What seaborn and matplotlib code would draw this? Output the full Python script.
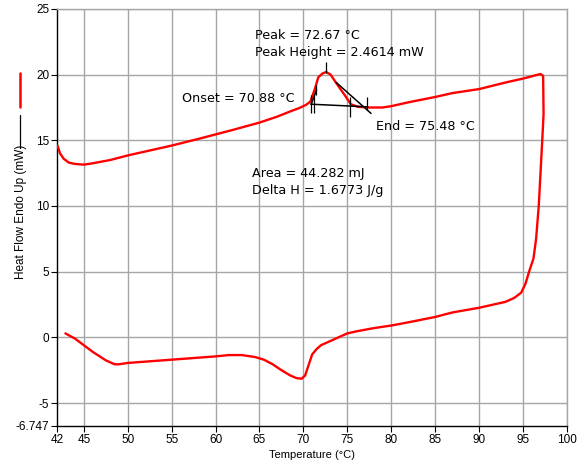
import numpy as np
import pandas as pd
import matplotlib
matplotlib.use("Agg")
import matplotlib.pyplot as plt
from matplotlib.lines import Line2D
import seaborn as sns

# --- data (heating up, then cooling back) ---
temp = [42.0, 42.3, 42.7, 43.3, 44.0, 45.0, 46.0, 48.0, 50.0, 52.0, 55.0, 58.0,
        60.0, 62.0, 65.0, 67.0, 68.5, 69.5, 70.3, 70.8, 71.3, 71.7, 72.2, 72.6,
        73.1, 73.75, 74.7, 75.4, 76.2, 77.5, 79.0, 80.0, 82.0, 85.0, 87.0, 90.0,
        93.0, 95.0, 97.0, 97.3, 97.35, 97.2, 97.0, 96.8, 96.5, 96.2, 95.7, 95.3,
        94.8, 94.0, 93.0, 90.0, 87.0, 85.0, 82.0, 80.0, 78.0, 76.0, 75.0, 74.0,
        73.0, 72.0, 71.5, 71.0, 70.5, 70.2, 69.8, 69.2, 68.5, 67.5, 66.5, 65.5,
        64.5, 63.0, 61.5, 60.0, 57.0, 55.0, 52.0, 50.0, 49.0, 48.5, 47.5, 46.0,
        45.0, 44.0, 42.9]
heat_flow = [14.6, 14.0, 13.6, 13.3, 13.2, 13.15, 13.25, 13.5, 13.85, 14.15, 14.6, 15.1,
             15.45, 15.8, 16.35, 16.8, 17.2, 17.45, 17.7, 17.95, 18.9, 19.8, 20.1, 20.2,
             20.0, 19.35, 18.45, 17.75, 17.55, 17.5, 17.5, 17.6, 17.9, 18.3, 18.6, 18.9,
             19.4, 19.7, 20.05, 19.9, 17.0, 15.0, 12.5, 10.0, 7.5, 6.0, 5.0, 4.1,
             3.4, 3.0, 2.7, 2.25, 1.9, 1.55, 1.15, 0.9, 0.7, 0.45, 0.3, 0.0,
             -0.3, -0.6, -0.9, -1.3, -2.3, -2.9, -3.15, -3.1, -2.9, -2.5, -2.05, -1.7,
             -1.5, -1.35, -1.35, -1.45, -1.6, -1.7, -1.85, -1.95, -2.05, -2.05, -1.75, -1.1,
             -0.6, -0.1, 0.3]

# peak analysis results
onset = 70.88
peak = 72.67
end = 75.48
peak_height = 2.4614
area = 44.282
delta_h = 1.6773

# tangent construction lines (x pair, y pair)
baseline_x = [70.85, 77.3]
baseline_y = [17.75, 17.55]
rise_x = [70.9, 71.5]
rise_y = [17.75, 18.85]
fall_x = [73.75, 77.7]
fall_y = [19.4, 17.05]
# small vertical marks: x, y_low, y_high
mark_x = [70.85, 71.2, 71.45, 72.62, 75.35, 77.2]
mark_lo = [17.07, 17.07, 18.44, 20.1, 16.79, 17.3]
mark_hi = [18.44, 18.44, 19.2, 20.97, 18.31, 18.31]

xticks = [42, 45, 50, 55, 60, 65, 70, 75, 80, 85, 90, 95, 100]
yticks = [-6.747, -5, 0, 5, 10, 15, 20, 25]
ytick_labels = ["-6.747", "-5", "0", "5", "10", "15", "20", "25"]

sns.set_style("white")
plt.rcParams['font.family'] = ['Liberation Sans', 'DejaVu Sans']
plt.rcParams['text.color'] = 'black'
plt.rcParams['axes.labelcolor'] = 'black'
plt.rcParams['xtick.color'] = 'black'
plt.rcParams['ytick.color'] = 'black'

fig = plt.figure(figsize=(5.79, 4.63), dpi=100)
ax = fig.add_axes([0.0993, 0.080, 0.8797, 0.9006])

df = pd.DataFrame({"T": temp, "HF": heat_flow})
sns.lineplot(data=df, x="T", y="HF", sort=False, estimator=None,
             color="#ff0000", lw=1.7, ax=ax, zorder=3)

# analysis construction
ax.plot(baseline_x, baseline_y, color="black", lw=1.1, zorder=4)
ax.plot(rise_x, rise_y, color="black", lw=1.1, zorder=4)
ax.plot(fall_x, fall_y, color="black", lw=1.1, zorder=4)
ax.vlines(mark_x, mark_lo, mark_hi, color="black", lw=0.9, zorder=4)

# annotation text is a bit wider than Arial in the original
ann = dict(fontsize=9.2, va="center", family="DejaVu Sans", color="black")
ax.text(64.5, 23.0, f"Peak = {peak:.2f} °C", ha="left", **ann)
ax.text(64.5, 21.65, f"Peak Height = {peak_height:.4f} mW", ha="left", **ann)
ax.text(69.0, 18.15, f"Onset = {onset:.2f} °C", ha="right", **ann)
ax.text(78.3, 16.08, f"End = {end:.2f} °C", ha="left", **ann)
ax.text(64.1, 12.5, f"Area = {area:.3f} mJ", ha="left", **ann)
ax.text(64.1, 11.2, f"Delta H = {delta_h:.4f} J/g", ha="left", **ann)

ax.set_xlim(42, 100)
ax.set_ylim(-6.747, 25)
ax.set_xticks(xticks)
ax.set_xticklabels([str(t) for t in xticks])
ax.set_yticks(yticks)
ax.set_yticklabels(ytick_labels)
ax.tick_params(axis="both", labelsize=8.5, length=4, width=0.8, color="black",
               labelcolor="black", direction="out", left=True, bottom=True, pad=2)

# grid (skip the lines on the axes themselves)
for xv in xticks[1:]:
    ax.axvline(xv, color="#a6a6a6", lw=1.0, zorder=1)
for yv in yticks[1:]:
    ax.axhline(yv, color="#a6a6a6", lw=1.0, zorder=1)

for s in ["left", "bottom"]:
    ax.spines[s].set_color("black")
    ax.spines[s].set_linewidth(1.0)
for s in ["top", "right"]:
    ax.spines[s].set_color("#a6a6a6")
    ax.spines[s].set_linewidth(1.0)

ax.set_xlabel("Temperature (°C)", fontsize=8, labelpad=2.5, color="black")
ax.set_ylabel("")

# y label with legend line swatches
fig.text(21 / 579, 1 - 212 / 463, "Heat Flow Endo Up (mW)", rotation=90,
         fontsize=8.5, ha="center", va="center", color="black")
fig.add_artist(Line2D([20 / 579, 20 / 579], [1 - 148 / 463, 1 - 115 / 463],
                      color="black", lw=0.9, transform=fig.transFigure))
fig.add_artist(Line2D([20 / 579, 20 / 579], [1 - 107 / 463, 1 - 73 / 463],
                      color="#ff0000", lw=1.8, transform=fig.transFigure))

fig.savefig("out.png", dpi=100)
